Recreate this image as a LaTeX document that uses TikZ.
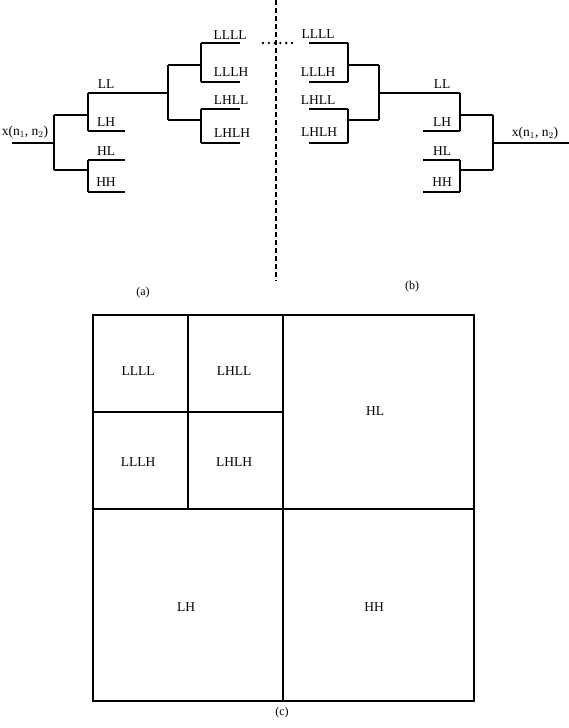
\documentclass[tikz,border=0pt]{standalone}
\usepackage{fontspec}
\setmainfont{Liberation Serif}
\begin{document}
\begin{tikzpicture}[x=1pt,y=-1pt,
  ln/.style={line width=1.2pt},
  lbl/.style={inner sep=0pt,font=\fontsize{13.5}{15}\selectfont},
  captxt/.style={inner sep=0pt,font=\fontsize{12}{14}\selectfont}]
\useasboundingbox (0,0) rectangle (569,728);
% ---------- (a) analysis tree ----------
\coordinate (ain) at (12,143);
\coordinate (aroot) at (54,143);
\draw[ln] (ain) -- (aroot);
\draw[ln] (54,115) -- (54,170);
\draw[ln] (54,115) -- (88,115);
\draw[ln] (54,170) -- (88,170);
\draw[ln] (88,93) -- (88,131);
\draw[ln] (88,93) -- (168,93);
\draw[ln] (88,131) -- (125,131);
\draw[ln] (88,160) -- (88,192);
\draw[ln] (88,160) -- (125,160);
\draw[ln] (88,192) -- (125,192);
\draw[ln] (168,65) -- (168,120);
\draw[ln] (168,65) -- (201,65);
\draw[ln] (168,120) -- (201,120);
\draw[ln] (201,43) -- (201,82);
\draw[ln] (201,43) -- (240,43);
\draw[ln] (201,82) -- (240,82);
\draw[ln] (201,109) -- (201,143);
\draw[ln] (201,109) -- (240,109);
\draw[ln] (201,143) -- (240,143);
\node[lbl] (ax) at (25,132) {x(n$_1$, n$_2$)};
\node[lbl] (aLL) at (106,84) {LL};
\node[lbl] (aLH) at (106,122) {LH};
\node[lbl] (aHL) at (106,151) {HL};
\node[lbl] (aHH) at (106,182) {HH};
\node[lbl] (aLLLL) at (230,35) {LLLL};
\node[lbl] (aLLLH) at (231,72) {LLLH};
\node[lbl] (aLHLL) at (231,100) {LHLL};
\node[lbl] (aLHLH) at (232,133) {LHLH};
% ---------- (b) synthesis tree ----------
\coordinate (bout) at (569,143);
\coordinate (broot) at (493,143);
\draw[ln] (broot) -- (bout);
\draw[ln] (493,115) -- (493,170);
\draw[ln] (460,115) -- (493,115);
\draw[ln] (460,170) -- (493,170);
\draw[ln] (460,93) -- (460,131);
\draw[ln] (379,93) -- (460,93);
\draw[ln] (423,131) -- (460,131);
\draw[ln] (460,160) -- (460,192);
\draw[ln] (423,160) -- (460,160);
\draw[ln] (423,192) -- (460,192);
\draw[ln] (379,65) -- (379,120);
\draw[ln] (348,65) -- (379,65);
\draw[ln] (348,120) -- (379,120);
\draw[ln] (348,43) -- (348,82);
\draw[ln] (309,43) -- (348,43);
\draw[ln] (309,82) -- (348,82);
\draw[ln] (348,109) -- (348,143);
\draw[ln] (309,109) -- (348,109);
\draw[ln] (309,143) -- (348,143);
\node[lbl] (bx) at (535,133) {x(n$_1$, n$_2$)};
\node[lbl] (bLL) at (442,84) {LL};
\node[lbl] (bLH) at (442,122) {LH};
\node[lbl] (bHL) at (442,151) {HL};
\node[lbl] (bHH) at (442,182) {HH};
\node[lbl] (bLLLL) at (318,34) {LLLL};
\node[lbl] (bLLLH) at (318,72) {LLLH};
\node[lbl] (bLHLL) at (318,100) {LHLL};
\node[lbl] (bLHLH) at (319,132) {LHLH};
% dots and separator
\foreach \i in {0,...,5} \fill (263+\i*5.8,43) circle (1.3);
\draw[line width=1.1pt,dash pattern=on 5pt off 3pt] (276,0) -- (276,281);
\node[captxt] (capa) at (143,293) {(a)};
\node[captxt] (capb) at (412,287) {(b)};
% ---------- (c) subband layout ----------
\draw[ln] (93,315) rectangle (474,701);
\draw[ln] (283,315) -- (283,701);
\draw[ln] (93,509) -- (474,509);
\draw[ln] (188,315) -- (188,509);
\draw[ln] (93,412) -- (283,412);
\node[lbl] (cLLLL) at (138,371) {LLLL};
\node[lbl] (cLHLL) at (234,371) {LHLL};
\node[lbl] (cLLLH) at (138,462) {LLLH};
\node[lbl] (cLHLH) at (234,462) {LHLH};
\node[lbl] (cHL) at (375,411) {HL};
\node[lbl] (cLH) at (186,607) {LH};
\node[lbl] (cHH) at (374,607) {HH};
\node[captxt] (capc) at (282,713) {(c)};
\end{tikzpicture}
\end{document}
